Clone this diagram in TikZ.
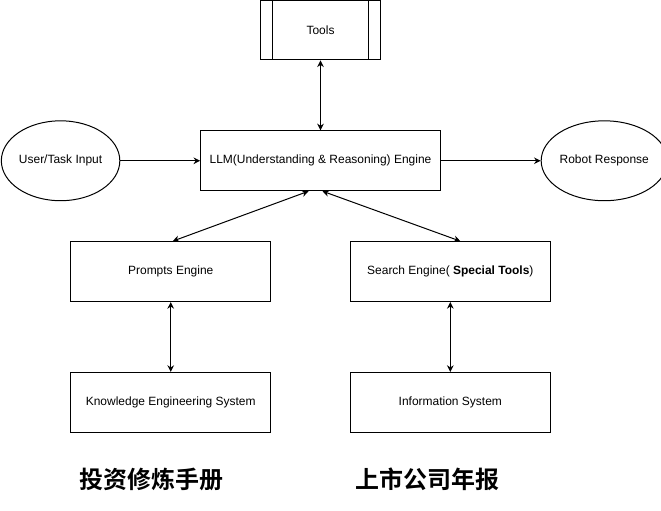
\documentclass[tikz,border=0pt]{standalone}
\usepackage{fontspec}
\setmainfont{Liberation Sans}
\newfontfamily\cjkfont{Noto Sans CJK SC}[BoldFont={* Bold}]
\usetikzlibrary{arrows.meta, positioning, shapes.geometric}

\begin{document}
\begin{tikzpicture}[
    x=0.75pt, y=-0.75pt,
    line width=0.75pt,
    box/.style={
        rectangle,
        draw=black,
        fill=white,
        align=center,
        minimum width=150pt,
        minimum height=45pt,
        inner sep=0pt,
        font=\fontsize{9pt}{11pt}\selectfont
    },
    bigbox/.style={
        box,
        minimum width=180pt
    },
    toolbox/.style={
        box,
        minimum width=90pt
    },
    oval/.style={
        ellipse,
        draw=black,
        fill=white,
        minimum width=89pt,
        minimum height=60pt,
        inner sep=0pt,
        font=\fontsize{9pt}{11pt}\selectfont
    },
    caption/.style={
        font=\cjkfont\bfseries\fontsize{18pt}{20pt}\selectfont
    },
    arrow/.style={-{Stealth[length=5pt, width=5pt]}},
    biarrow/.style={{Stealth[length=5pt, width=5pt]}-{Stealth[length=5pt, width=5pt]}}
]
\useasboundingbox (-1,-1) rectangle (661,510);

\node[bigbox] (llm) at (320,160) {LLM(Understanding \& Reasoning) Engine};
\node[toolbox, above=52.5pt of llm] (tools) {Tools};
\draw ([xshift=9pt]tools.north west) -- ([xshift=9pt]tools.south west);
\draw ([xshift=-9pt]tools.north east) -- ([xshift=-9pt]tools.south east);

\node[oval, left=60pt of llm] (user) {User/Task Input};
\node[oval, right=75pt of llm] (robot) {Robot Response};

\node[box, below=37.5pt of llm, xshift=-112.5pt] (prompts) {Prompts Engine};
\node[box, below=37.5pt of llm, xshift=97.5pt] (search) {Search Engine( \textbf{Special Tools})};

\node[box, below=52.5pt of prompts] (knowledge) {Knowledge Engineering System};
\node[box, below=52.5pt of search] (info) {Information System};

\node[caption] (invest) at (151,479) {投资修炼手册};
\node[caption] (report) at (427,479) {上市公司年报};

\draw[biarrow] (tools) -- (llm);
\draw[arrow] (user) -- (llm);
\draw[arrow] (llm) -- (robot);
\draw[biarrow] ([xshift=-9pt]llm.south) -- ([xshift=1.5pt]prompts.north);
\draw[biarrow] ([xshift=1.5pt]llm.south) -- ([xshift=7.5pt]search.north);
\draw[biarrow] (prompts) -- (knowledge);
\draw[biarrow] (search) -- (info);

\end{tikzpicture}
\end{document}
